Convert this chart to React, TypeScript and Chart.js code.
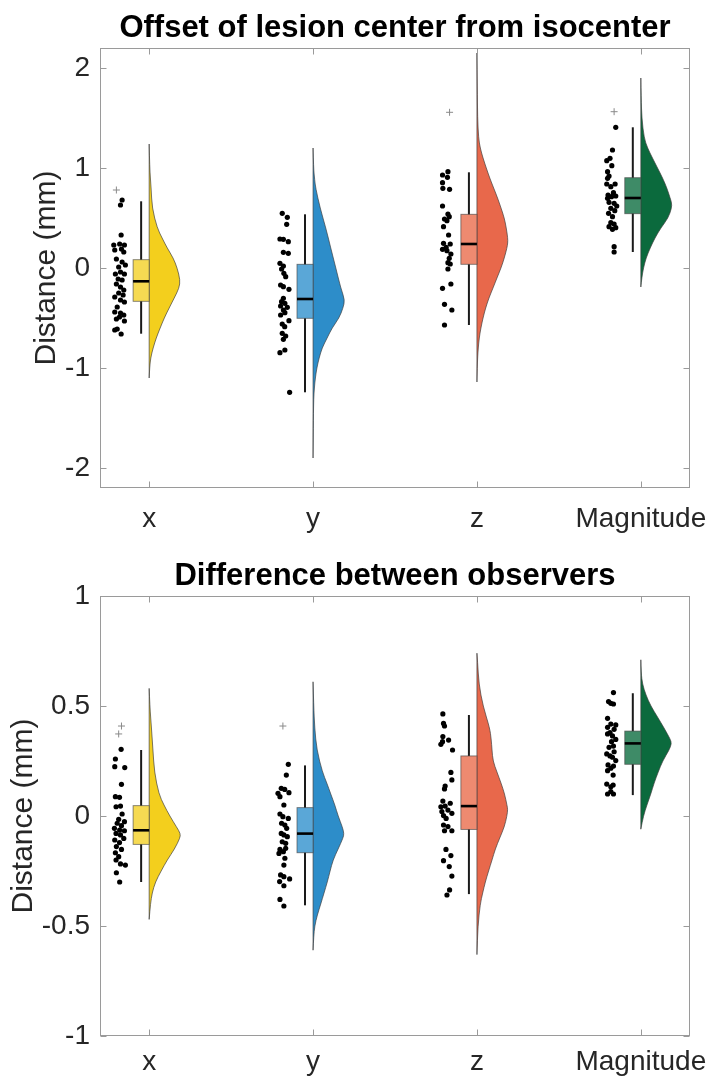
import React, { useEffect, useRef } from 'react';
import { Chart, registerables } from 'chart.js';
Chart.register(...registerables);

const FONT = "'Liberation Sans', Arial, Helvetica, sans-serif";
const TEXT_COLOR = '#262626';
const AXIS_COLOR = '#9a9a9a';

const categories = ['x', 'y', 'z', 'Magnitude'];
const categoryPositions = [1, 2, 3, 4];
const violinColors = ['#F3CF1D', '#2D8DC9', '#E8684B', '#0B6A3D'];
const boxColors = ['#F6DA52', '#5AA7D7', '#EE8A70', '#3E8B67'];

// ---------- Panel 1: Offset of lesion center from isocenter ----------
const offsetTitle = 'Offset of lesion center from isocenter';
const offsetYTicks = [-2, -1, 0, 1, 2];
const offsetYRange = [-2.2, 2.2];

const offsetXVals = [0.68, 0.63, 0.33, 0.23, 0.24, 0.23, 0.19, 0.18, 0.16, 0.09, 0.06, 0.03, 0.01, -0.06, -0.04, -0.06, -0.11, -0.12, -0.16, -0.19, -0.22, -0.25, -0.27, -0.29, -0.32, -0.34, -0.39, -0.44, -0.45, -0.47, -0.51, -0.49, -0.53, -0.61, -0.66, -0.62];
const offsetXJit = [-0.165, -0.175, -0.171, -0.216, -0.18, -0.151, -0.169, -0.21, -0.155, -0.2, -0.165, -0.145, -0.186, -0.206, -0.175, -0.151, -0.189, -0.165, -0.2, -0.175, -0.155, -0.186, -0.159, -0.21, -0.175, -0.151, -0.195, -0.21, -0.175, -0.155, -0.2, -0.181, -0.151, -0.195, -0.171, -0.21];
const offsetYVals = [0.547, 0.507, 0.437, 0.29, 0.287, 0.263, 0.157, 0.147, 0.047, 0.02, -0.01, -0.053, -0.087, -0.17, -0.187, -0.213, -0.303, -0.337, -0.353, -0.38, -0.393, -0.42, -0.447, -0.47, -0.527, -0.56, -0.587, -0.653, -0.68, -0.713, -0.847, -0.82, -1.243];
const offsetYJit = [-0.188, -0.157, -0.161, -0.202, -0.181, -0.151, -0.181, -0.151, -0.202, -0.181, -0.192, -0.178, -0.167, -0.198, -0.181, -0.147, -0.181, -0.192, -0.172, -0.198, -0.157, -0.181, -0.172, -0.198, -0.147, -0.188, -0.173, -0.188, -0.167, -0.181, -0.202, -0.172, -0.143];
const offsetZVals = [0.963, 0.93, 0.907, 0.853, 0.797, 0.787, 0.62, 0.54, 0.513, 0.49, 0.473, 0.413, 0.33, 0.247, 0.24, 0.207, 0.187, 0.173, 0.14, 0.097, 0.053, 0.04, -0.01, -0.16, -0.203, -0.363, -0.42, -0.57];
const offsetZJit = [-0.177, -0.21, -0.18, -0.21, -0.208, -0.167, -0.21, -0.177, -0.169, -0.198, -0.183, -0.204, -0.173, -0.204, -0.163, -0.188, -0.21, -0.183, -0.159, -0.169, -0.177, -0.163, -0.177, -0.159, -0.21, -0.198, -0.153, -0.198];
const offsetMVals = [1.407, 1.18, 1.097, 1.073, 1.023, 0.963, 0.92, 0.897, 0.84, 0.84, 0.813, 0.753, 0.73, 0.72, 0.713, 0.697, 0.657, 0.647, 0.62, 0.597, 0.573, 0.547, 0.513, 0.453, 0.44, 0.413, 0.403, 0.387, 0.213, 0.16];
const offsetMJit = [-0.153, -0.173, -0.188, -0.208, -0.177, -0.203, -0.194, -0.203, -0.208, -0.157, -0.183, -0.167, -0.2, -0.153, -0.179, -0.203, -0.194, -0.163, -0.147, -0.183, -0.159, -0.197, -0.173, -0.183, -0.163, -0.194, -0.153, -0.173, -0.163, -0.163];

const offsetOutlierCat = [1, 3, 4];
const offsetOutlierVals = [0.78, 1.557, 1.563];
const offsetOutlierJit = [-0.2, -0.167, -0.163];

const offsetQ1 = [-0.333, -0.503, 0.037, 0.543];
const offsetMedian = [-0.133, -0.31, 0.24, 0.7];
const offsetQ3 = [0.083, 0.037, 0.537, 0.903];
const offsetWhiskerLo = [-0.657, -1.243, -0.57, 0.16];
const offsetWhiskerHi = [0.667, 0.537, 0.957, 1.407];

const offsetViolinXLevels = [1.24, 1.0, 0.8, 0.6, 0.4, 0.3, 0.2, 0.1, 0.0, -0.12, -0.2, -0.3, -0.4, -0.5, -0.6, -0.7, -0.8, -0.9, -1.0, -1.1];
const offsetViolinXWidths = [0, 0.003, 0.012, 0.018, 0.049, 0.079, 0.11, 0.147, 0.171, 0.189, 0.183, 0.153, 0.122, 0.092, 0.067, 0.043, 0.024, 0.009, 0.003, 0];
const offsetViolinYLevels = [1.2, 1.0, 0.88, 0.8, 0.6, 0.4, 0.2, 0.0, -0.2, -0.32, -0.4, -0.5, -0.6, -0.7, -0.8, -0.9, -1.0, -1.1, -1.2, -1.3, -1.5, -1.9];
const offsetViolinYWidths = [0, 0.003, 0.01, 0.016, 0.043, 0.078, 0.108, 0.139, 0.169, 0.194, 0.183, 0.159, 0.116, 0.086, 0.055, 0.037, 0.023, 0.014, 0.008, 0.004, 0.002, 0];
const offsetViolinZLevels = [2.15, 1.8, 1.5, 1.3, 1.2, 1.1, 1.0, 0.9, 0.8, 0.7, 0.6, 0.5, 0.4, 0.3, 0.25, 0.2, 0.1, 0.0, -0.1, -0.2, -0.3, -0.4, -0.5, -0.6, -0.7, -0.8, -0.9, -1.0, -1.14];
const offsetViolinZWidths = [0, 0.002, 0.004, 0.01, 0.02, 0.037, 0.057, 0.078, 0.102, 0.126, 0.147, 0.167, 0.179, 0.188, 0.188, 0.183, 0.167, 0.147, 0.122, 0.098, 0.073, 0.053, 0.037, 0.024, 0.014, 0.008, 0.004, 0.002, 0];
const offsetViolinMLevels = [1.9, 1.7, 1.5, 1.3, 1.2, 1.1, 1.0, 0.9, 0.8, 0.7, 0.65, 0.6, 0.5, 0.4, 0.3, 0.2, 0.1, 0.0, -0.1, -0.19];
const offsetViolinMWidths = [0, 0.002, 0.006, 0.02, 0.041, 0.071, 0.102, 0.133, 0.159, 0.179, 0.188, 0.188, 0.167, 0.122, 0.086, 0.057, 0.032, 0.016, 0.006, 0];

// ---------- Panel 2: Difference between observers ----------
const diffTitle = 'Difference between observers';
const diffYTicks = [-1, -0.5, 0, 0.5, 1];
const diffYRange = [-1, 1];

const diffXVals = [0.303, 0.259, 0.224, 0.22, 0.144, 0.088, 0.085, 0.042, 0.045, 0.009, -0.015, -0.026, -0.033, -0.044, -0.056, -0.064, -0.067, -0.079, -0.086, -0.102, -0.109, -0.121, -0.139, -0.152, -0.167, -0.185, -0.2, -0.218, -0.223, -0.258, -0.3];
const diffXJit = [-0.171, -0.206, -0.21, -0.149, -0.169, -0.206, -0.181, -0.202, -0.175, -0.165, -0.186, -0.151, -0.195, -0.169, -0.212, -0.18, -0.151, -0.202, -0.175, -0.155, -0.21, -0.181, -0.2, -0.169, -0.206, -0.186, -0.202, -0.175, -0.145, -0.2, -0.18];
const diffYVals = [0.235, 0.186, 0.126, 0.121, 0.106, 0.103, 0.088, 0.05, 0.009, -0.003, -0.011, -0.033, -0.041, -0.056, -0.079, -0.086, -0.094, -0.117, -0.124, -0.152, -0.147, -0.162, -0.17, -0.192, -0.223, -0.268, -0.276, -0.286, -0.298, -0.317, -0.379, -0.409];
const diffYJit = [-0.151, -0.163, -0.194, -0.173, -0.147, -0.214, -0.202, -0.178, -0.202, -0.184, -0.151, -0.192, -0.172, -0.161, -0.194, -0.178, -0.157, -0.188, -0.167, -0.202, -0.167, -0.181, -0.208, -0.172, -0.178, -0.198, -0.178, -0.143, -0.204, -0.178, -0.202, -0.178];
const diffZVals = [0.464, 0.421, 0.409, 0.361, 0.345, 0.338, 0.326, 0.3, 0.198, 0.164, 0.136, 0.123, 0.068, 0.058, 0.045, 0.042, 0.027, 0.02, 0.012, 0.002, -0.011, -0.041, -0.048, -0.067, -0.067, -0.152, -0.18, -0.203, -0.23, -0.273, -0.336, -0.359];
const diffZJit = [-0.208, -0.204, -0.198, -0.208, -0.173, -0.21, -0.22, -0.149, -0.159, -0.153, -0.194, -0.198, -0.208, -0.163, -0.194, -0.22, -0.177, -0.214, -0.153, -0.204, -0.188, -0.204, -0.177, -0.198, -0.153, -0.189, -0.159, -0.204, -0.169, -0.153, -0.167, -0.183];
const diffMVals = [0.561, 0.52, 0.512, 0.509, 0.444, 0.418, 0.414, 0.403, 0.394, 0.379, 0.373, 0.364, 0.348, 0.338, 0.318, 0.312, 0.292, 0.282, 0.273, 0.267, 0.252, 0.232, 0.227, 0.217, 0.206, 0.186, 0.145, 0.141, 0.133, 0.111, 0.1, 0.1];
const diffMJit = [-0.167, -0.197, -0.183, -0.167, -0.203, -0.183, -0.153, -0.203, -0.163, -0.188, -0.203, -0.173, -0.153, -0.179, -0.167, -0.194, -0.163, -0.208, -0.188, -0.173, -0.153, -0.2, -0.167, -0.183, -0.203, -0.169, -0.208, -0.169, -0.183, -0.183, -0.203, -0.167];

const diffOutlierCat = [1, 1, 2];
const diffOutlierVals = [0.409, 0.373, 0.409];
const diffOutlierJit = [-0.169, -0.186, -0.184];

const diffQ1 = [-0.129, -0.167, -0.061, 0.235];
const diffMedian = [-0.065, -0.08, 0.045, 0.33];
const diffQ3 = [0.047, 0.038, 0.273, 0.386];
const diffWhiskerLo = [-0.3, -0.406, -0.355, 0.095];
const diffWhiskerHi = [0.3, 0.23, 0.459, 0.558];

const diffViolinXLevels = [0.58, 0.5, 0.4, 0.3, 0.2, 0.1, 0.05, 0.0, -0.05, -0.08, -0.1, -0.15, -0.2, -0.25, -0.3, -0.35, -0.4, -0.47];
const diffViolinXWidths = [0, 0.004, 0.014, 0.023, 0.032, 0.059, 0.09, 0.126, 0.167, 0.191, 0.188, 0.155, 0.11, 0.073, 0.038, 0.018, 0.008, 0];
const diffViolinYLevels = [0.61, 0.5, 0.4, 0.3, 0.2, 0.15, 0.1, 0.05, 0.0, -0.05, -0.08, -0.1, -0.15, -0.2, -0.25, -0.3, -0.35, -0.4, -0.45, -0.5, -0.55, -0.61];
const diffViolinYWidths = [0, 0.004, 0.01, 0.023, 0.057, 0.084, 0.108, 0.133, 0.153, 0.179, 0.189, 0.183, 0.153, 0.122, 0.104, 0.087, 0.067, 0.047, 0.026, 0.01, 0.004, 0];
const diffViolinZLevels = [0.74, 0.7, 0.6, 0.5, 0.4, 0.35, 0.3, 0.25, 0.2, 0.15, 0.1, 0.05, 0.03, 0.0, -0.05, -0.1, -0.15, -0.2, -0.25, -0.3, -0.35, -0.4, -0.5, -0.63];
const diffViolinZWidths = [0, 0.004, 0.012, 0.037, 0.078, 0.087, 0.092, 0.098, 0.122, 0.147, 0.169, 0.183, 0.188, 0.183, 0.167, 0.139, 0.112, 0.092, 0.071, 0.051, 0.035, 0.02, 0.006, 0];
const diffViolinMLevels = [0.71, 0.65, 0.6, 0.55, 0.5, 0.45, 0.4, 0.35, 0.33, 0.3, 0.25, 0.2, 0.15, 0.1, 0.05, 0.0, -0.06];
const diffViolinMWidths = [0, 0.002, 0.01, 0.031, 0.061, 0.102, 0.142, 0.179, 0.188, 0.173, 0.133, 0.106, 0.081, 0.061, 0.037, 0.016, 0];

const yAxisLabel = 'Distance (mm)';

// ---------- panel assembly ----------
const panels = [
  {
    title: offsetTitle, yTicks: offsetYTicks, yRange: offsetYRange,
    vals: [offsetXVals, offsetYVals, offsetZVals, offsetMVals],
    jit: [offsetXJit, offsetYJit, offsetZJit, offsetMJit],
    outCat: offsetOutlierCat, outVals: offsetOutlierVals, outJit: offsetOutlierJit,
    q1: offsetQ1, med: offsetMedian, q3: offsetQ3, wLo: offsetWhiskerLo, wHi: offsetWhiskerHi,
    vLevels: [offsetViolinXLevels, offsetViolinYLevels, offsetViolinZLevels, offsetViolinMLevels],
    vWidths: [offsetViolinXWidths, offsetViolinYWidths, offsetViolinZWidths, offsetViolinMWidths],
  },
  {
    title: diffTitle, yTicks: diffYTicks, yRange: diffYRange,
    vals: [diffXVals, diffYVals, diffZVals, diffMVals],
    jit: [diffXJit, diffYJit, diffZJit, diffMJit],
    outCat: diffOutlierCat, outVals: diffOutlierVals, outJit: diffOutlierJit,
    q1: diffQ1, med: diffMedian, q3: diffQ3, wLo: diffWhiskerLo, wHi: diffWhiskerHi,
    vLevels: [diffViolinXLevels, diffViolinYLevels, diffViolinZLevels, diffViolinMLevels],
    vWidths: [diffViolinXWidths, diffViolinYWidths, diffViolinZWidths, diffViolinMWidths],
  },
];

const BOX_W = 0.098;
const TICK_FONT = 28;
const LABEL_FONT = 30;
const TITLE_FONT = 31;
const Y_TICK_PAD = 10;

function makeRainPlugin(p: any) {
  return {
    id: 'rain',
    beforeDatasetsDraw(chart: any) {
      const { ctx, chartArea } = chart;
      const xs = chart.scales.x;
      const ys = chart.scales.y;
      ctx.save();
      ctx.beginPath();
      ctx.rect(chartArea.left, chartArea.top, chartArea.right - chartArea.left, chartArea.bottom - chartArea.top);
      ctx.clip();
      for (let i = 0; i < 4; i++) {
        const c = categoryPositions[i];
        const levels = p.vLevels[i];
        const widths = p.vWidths[i];
        const pts = levels.map((lv: number, k: number) => [xs.getPixelForValue(c + widths[k]), ys.getPixelForValue(lv)]);
        const base = xs.getPixelForValue(c);
        // violin (half density)
        ctx.beginPath();
        ctx.moveTo(pts[0][0], pts[0][1]);
        for (let k = 1; k < pts.length - 1; k++) {
          const mx = (pts[k][0] + pts[k + 1][0]) / 2;
          const my = (pts[k][1] + pts[k + 1][1]) / 2;
          ctx.quadraticCurveTo(pts[k][0], pts[k][1], mx, my);
        }
        ctx.lineTo(pts[pts.length - 1][0], pts[pts.length - 1][1]);
        ctx.lineTo(base, pts[pts.length - 1][1]);
        ctx.lineTo(base, pts[0][1]);
        ctx.closePath();
        ctx.fillStyle = violinColors[i];
        ctx.fill();
        ctx.strokeStyle = 'rgba(60,60,60,0.75)';
        ctx.lineWidth = 0.9;
        ctx.stroke();

        // whiskers
        const wx = xs.getPixelForValue(c - BOX_W / 2);
        ctx.beginPath();
        ctx.moveTo(wx, ys.getPixelForValue(p.wHi[i]));
        ctx.lineTo(wx, ys.getPixelForValue(p.wLo[i]));
        ctx.strokeStyle = '#1a1a1a';
        ctx.lineWidth = 2;
        ctx.stroke();

        // box
        const bx0 = xs.getPixelForValue(c - BOX_W);
        const bx1 = base;
        const by0 = ys.getPixelForValue(p.q3[i]);
        const by1 = ys.getPixelForValue(p.q1[i]);
        ctx.fillStyle = boxColors[i];
        ctx.fillRect(bx0, by0, bx1 - bx0, by1 - by0);
        ctx.strokeStyle = 'rgba(70,70,70,0.7)';
        ctx.lineWidth = 0.9;
        ctx.strokeRect(bx0, by0, bx1 - bx0, by1 - by0);

        // median
        const my = ys.getPixelForValue(p.med[i]);
        ctx.beginPath();
        ctx.moveTo(bx0, my);
        ctx.lineTo(bx1, my);
        ctx.strokeStyle = '#000';
        ctx.lineWidth = 2.6;
        ctx.stroke();
      }
      ctx.restore();
    },
    afterDraw(chart: any) {
      const { ctx, chartArea } = chart;
      const xs = chart.scales.x;
      const ys = chart.scales.y;
      const L = Math.round(chartArea.left) + 0.5;
      const R = Math.round(chartArea.right) - 0.5;
      const T = Math.round(chartArea.top) + 0.5;
      const B = Math.round(chartArea.bottom) - 0.5;
      ctx.save();
      ctx.strokeStyle = AXIS_COLOR;
      ctx.lineWidth = 1;
      ctx.strokeRect(L, T, R - L, B - T);
      const TL = 6;
      ctx.beginPath();
      p.yTicks.forEach((v: number) => {
        const y = Math.round(ys.getPixelForValue(v)) + 0.5;
        ctx.moveTo(L, y); ctx.lineTo(L + TL, y);
        ctx.moveTo(R, y); ctx.lineTo(R - TL, y);
      });
      categoryPositions.forEach((v) => {
        const x = Math.round(xs.getPixelForValue(v)) + 0.5;
        ctx.moveTo(x, B); ctx.lineTo(x, B - TL);
        ctx.moveTo(x, T); ctx.lineTo(x, T + TL);
      });
      ctx.stroke();

      // title
      ctx.fillStyle = '#000';
      ctx.font = `bold ${TITLE_FONT}px ${FONT}`;
      ctx.textAlign = 'center';
      ctx.textBaseline = 'alphabetic';
      ctx.fillText(p.title, (chartArea.left + chartArea.right) / 2, chartArea.top - 11);

      // y axis label, placed left of the widest tick label
      ctx.font = `${TICK_FONT}px ${FONT}`;
      let maxW = 0;
      p.yTicks.forEach((v: number) => { maxW = Math.max(maxW, ctx.measureText(String(v)).width); });
      const lx = chartArea.left - Y_TICK_PAD - maxW - 10;
      ctx.font = `${LABEL_FONT}px ${FONT}`;
      ctx.fillStyle = TEXT_COLOR;
      ctx.translate(lx, (chartArea.top + chartArea.bottom) / 2);
      ctx.rotate(-Math.PI / 2);
      ctx.textAlign = 'center';
      ctx.textBaseline = 'alphabetic';
      ctx.fillText(yAxisLabel, 0, 0);
      ctx.restore();
    },
  };
}

function buildConfig(p: any, topPad: number, xAxisH: number, xTickPad: number) {
  const datasets: any[] = [];
  for (let i = 0; i < 4; i++) {
    datasets.push({
      label: categories[i],
      data: p.vals[i].map((v: number, k: number) => ({ x: categoryPositions[i] + p.jit[i][k], y: v })),
      pointRadius: 2.6,
      pointBackgroundColor: '#000',
      pointBorderWidth: 0,
      showLine: false,
    });
  }
  datasets.push({
    label: 'outliers',
    data: p.outVals.map((v: number, k: number) => ({ x: p.outCat[k] + p.outJit[k], y: v })),
    pointStyle: 'cross',
    pointRadius: 3.5,
    pointBorderColor: '#8a8a8a',
    pointBorderWidth: 1,
    showLine: false,
  });
  return {
    type: 'scatter',
    data: { datasets },
    options: {
      animation: false,
      responsive: false,
      devicePixelRatio: 1,
      layout: { padding: { left: 0, right: 18, top: topPad, bottom: 0 } },
      plugins: { legend: { display: false }, title: { display: false }, tooltip: { enabled: false } },
      scales: {
        x: {
          type: 'linear',
          min: 0.7,
          max: 4.3,
          grid: { display: false, drawTicks: false, tickLength: 0 },
          border: { display: false },
          ticks: {
            autoSkip: false,
            maxRotation: 0,
            padding: xTickPad,
            color: TEXT_COLOR,
            font: { family: FONT, size: TICK_FONT },
            callback: (v: number) => categories[categoryPositions.indexOf(Math.round(v))] ?? '',
          },
          afterBuildTicks: (s: any) => { s.ticks = categoryPositions.map((v) => ({ value: v })); },
          afterFit: (s: any) => { s.height = xAxisH; s.paddingLeft = 0; s.paddingRight = 0; },
        },
        y: {
          type: 'linear',
          min: p.yRange[0],
          max: p.yRange[1],
          grid: { display: false, drawTicks: false, tickLength: 0 },
          border: { display: false },
          ticks: {
            padding: Y_TICK_PAD,
            color: TEXT_COLOR,
            font: { family: FONT, size: TICK_FONT },
            callback: (v: number) => String(v),
          },
          afterBuildTicks: (s: any) => { s.ticks = p.yTicks.map((v: number) => ({ value: v })); },
          afterFit: (s: any) => { s.width = 100; s.paddingTop = 0; s.paddingBottom = 0; },
        },
      },
    },
    plugins: [makeRainPlugin(p)],
  };
}

function Panel({ p, top, height, topPad, xAxisH, xTickPad }: any) {
  const ref = useRef<HTMLCanvasElement>(null);
  useEffect(() => {
    const chart = new Chart(ref.current as HTMLCanvasElement, buildConfig(p, topPad, xAxisH, xTickPad) as any);
    return () => chart.destroy();
  }, []);
  return (
    <canvas
      ref={ref}
      width={708}
      height={height}
      style={{ position: 'absolute', left: 0, top, width: 708, height, display: 'block' }}
    />
  );
}

export default function App() {
  return (
    <div style={{ position: 'absolute', left: 0, top: 0, width: 708, height: 1079, background: '#fff', overflow: 'hidden' }}>
      <Panel p={panels[0]} top={0} height={540} topPad={48} xAxisH={52} xTickPad={14} />
      <Panel p={panels[1]} top={540} height={539} topPad={56} xAxisH={43} xTickPad={9} />
    </div>
  );
}
